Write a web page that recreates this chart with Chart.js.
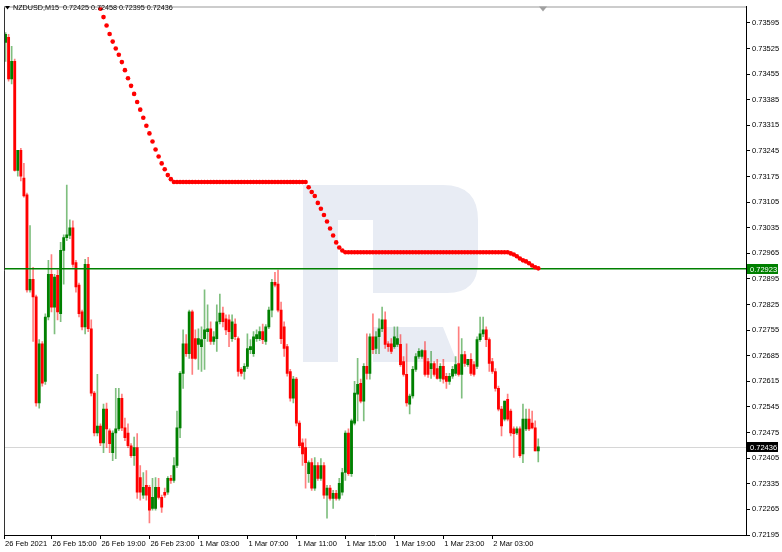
<!DOCTYPE html>
<html lang="en">
<head>
<meta charset="UTF-8">
<title>NZDUSD,M15</title>
<script src="https://cdn.jsdelivr.net/npm/chart.js@4.4.6/dist/chart.umd.min.js"></script>
<style>
  html, body { margin: 0; padding: 0; background: #fff; }
  canvas { display: block; }
</style>
</head>
<body>
<canvas id="chart" width="782" height="552"></canvas>
<script>
// ── Data (M15 bars) ──────────────────────────────────────────────────────────

const opens = [
  0.73542, 0.73556, 0.73442, 0.73490, 0.73192, 0.73247, 0.73171, 0.73125, 0.72865, 0.72894,
  0.72846, 0.72556, 0.72718, 0.72615, 0.72791, 0.72908, 0.72818, 0.72905, 0.72800, 0.72973,
  0.73008, 0.73014, 0.73035, 0.72940, 0.72878, 0.72805, 0.72764, 0.72935, 0.72759, 0.72583,
  0.72474, 0.72493, 0.72447, 0.72539, 0.72480, 0.72420, 0.72474, 0.72485, 0.72569, 0.72488,
  0.72474, 0.72439, 0.72412, 0.72434, 0.72352, 0.72304, 0.72331, 0.72325, 0.72268, 0.72268,
  0.72325, 0.72298, 0.72312, 0.72312, 0.72350, 0.72344, 0.72385, 0.72488, 0.72637, 0.72718,
  0.72691, 0.72805, 0.72732, 0.72716, 0.72710, 0.72732, 0.72751, 0.72759, 0.72724, 0.72732,
  0.72778, 0.72802, 0.72786, 0.72783, 0.72732, 0.72772, 0.72732, 0.72648, 0.72642, 0.72656,
  0.72702, 0.72691, 0.72732, 0.72732, 0.72751, 0.72724, 0.72764, 0.72810, 0.72886, 0.72881,
  0.72810, 0.72764, 0.72710, 0.72642, 0.72569, 0.72621, 0.72501, 0.72447, 0.72434, 0.72363,
  0.72393, 0.72323, 0.72385, 0.72350, 0.72385, 0.72304, 0.72323, 0.72295, 0.72309, 0.72295,
  0.72312, 0.72366, 0.72474, 0.72363, 0.72501, 0.72580, 0.72610, 0.72561, 0.72656, 0.72637,
  0.72737, 0.72705, 0.72737, 0.72759, 0.72783, 0.72718, 0.72718, 0.72710, 0.72716, 0.72716,
  0.72669, 0.72634, 0.72553, 0.72575, 0.72648, 0.72683, 0.72683, 0.72699, 0.72669, 0.72650,
  0.72664, 0.72650, 0.72623, 0.72656, 0.72629, 0.72615, 0.72629, 0.72637, 0.72664, 0.72634,
  0.72688, 0.72661, 0.72675, 0.72661, 0.72656, 0.72729, 0.72745, 0.72756, 0.72729, 0.72669,
  0.72642, 0.72596, 0.72539, 0.72512, 0.72566, 0.72534, 0.72485, 0.72474, 0.72485, 0.72417,
  0.72485, 0.72512, 0.72501, 0.72488, 0.72425,
];
const highs = [
  0.73569, 0.73564, 0.73531, 0.73496, 0.73247, 0.73252, 0.73211, 0.73130, 0.73041, 0.72927,
  0.72851, 0.72729, 0.72724, 0.72800, 0.72946, 0.72962, 0.72908, 0.72919, 0.72995, 0.73016,
  0.73152, 0.73057, 0.73054, 0.72946, 0.72884, 0.72810, 0.72949, 0.72954, 0.72783, 0.72588,
  0.72634, 0.72499, 0.72553, 0.72556, 0.72485, 0.72480, 0.72596, 0.72596, 0.72580, 0.72515,
  0.72499, 0.72445, 0.72463, 0.72472, 0.72385, 0.72366, 0.72371, 0.72331, 0.72350, 0.72352,
  0.72350, 0.72304, 0.72323, 0.72355, 0.72358, 0.72407, 0.72534, 0.72642, 0.72756, 0.72743,
  0.72810, 0.72810, 0.72756, 0.72759, 0.72764, 0.72865, 0.72824, 0.72778, 0.72751, 0.72824,
  0.72854, 0.72818, 0.72797, 0.72797, 0.72797, 0.72786, 0.72737, 0.72653, 0.72664, 0.72745,
  0.72729, 0.72751, 0.72756, 0.72764, 0.72772, 0.72770, 0.72818, 0.72894, 0.72913, 0.72919,
  0.72832, 0.72778, 0.72716, 0.72648, 0.72629, 0.72626, 0.72507, 0.72458, 0.72458, 0.72398,
  0.72404, 0.72407, 0.72393, 0.72404, 0.72393, 0.72331, 0.72331, 0.72317, 0.72317, 0.72350,
  0.72377, 0.72480, 0.72485, 0.72512, 0.72615, 0.72678, 0.72621, 0.72664, 0.72745, 0.72745,
  0.72800, 0.72751, 0.72786, 0.72818, 0.72805, 0.72724, 0.72732, 0.72764, 0.72764, 0.72743,
  0.72683, 0.72718, 0.72580, 0.72656, 0.72691, 0.72705, 0.72702, 0.72724, 0.72678, 0.72697,
  0.72669, 0.72675, 0.72664, 0.72675, 0.72637, 0.72637, 0.72656, 0.72683, 0.72764, 0.72732,
  0.72697, 0.72675, 0.72691, 0.72669, 0.72737, 0.72791, 0.72791, 0.72764, 0.72734, 0.72678,
  0.72650, 0.72602, 0.72547, 0.72561, 0.72580, 0.72539, 0.72491, 0.72491, 0.72491, 0.72553,
  0.72539, 0.72539, 0.72534, 0.72507, 0.72458,
];
const lows = [
  0.73490, 0.73436, 0.73428, 0.73190, 0.73176, 0.73163, 0.73119, 0.72859, 0.72859, 0.72724,
  0.72547, 0.72542, 0.72602, 0.72607, 0.72783, 0.72805, 0.72745, 0.72783, 0.72778, 0.72881,
  0.73000, 0.73005, 0.72927, 0.72859, 0.72791, 0.72756, 0.72745, 0.72751, 0.72575, 0.72466,
  0.72466, 0.72439, 0.72420, 0.72434, 0.72420, 0.72398, 0.72404, 0.72480, 0.72480, 0.72453,
  0.72434, 0.72407, 0.72385, 0.72295, 0.72290, 0.72295, 0.72290, 0.72228, 0.72263, 0.72263,
  0.72293, 0.72257, 0.72298, 0.72306, 0.72336, 0.72339, 0.72379, 0.72461, 0.72596, 0.72683,
  0.72678, 0.72634, 0.72675, 0.72648, 0.72642, 0.72648, 0.72724, 0.72716, 0.72716, 0.72697,
  0.72772, 0.72764, 0.72743, 0.72710, 0.72724, 0.72729, 0.72629, 0.72629, 0.72621, 0.72650,
  0.72691, 0.72683, 0.72724, 0.72726, 0.72718, 0.72716, 0.72759, 0.72791, 0.72873, 0.72805,
  0.72718, 0.72683, 0.72629, 0.72561, 0.72556, 0.72493, 0.72434, 0.72385, 0.72323, 0.72339,
  0.72317, 0.72317, 0.72344, 0.72344, 0.72295, 0.72241, 0.72290, 0.72268, 0.72290, 0.72290,
  0.72304, 0.72344, 0.72358, 0.72355, 0.72496, 0.72507, 0.72556, 0.72507, 0.72621, 0.72621,
  0.72691, 0.72691, 0.72691, 0.72751, 0.72705, 0.72697, 0.72691, 0.72705, 0.72710, 0.72656,
  0.72629, 0.72547, 0.72526, 0.72569, 0.72642, 0.72678, 0.72678, 0.72629, 0.72626, 0.72623,
  0.72629, 0.72621, 0.72615, 0.72610, 0.72596, 0.72607, 0.72623, 0.72631, 0.72629, 0.72569,
  0.72656, 0.72656, 0.72631, 0.72629, 0.72650, 0.72724, 0.72737, 0.72710, 0.72642, 0.72637,
  0.72588, 0.72534, 0.72466, 0.72507, 0.72507, 0.72466, 0.72407, 0.72469, 0.72407, 0.72393,
  0.72480, 0.72480, 0.72485, 0.72425, 0.72395,
];
const closes = [
  0.73564, 0.73442, 0.73490, 0.73192, 0.73247, 0.73176, 0.73122, 0.72865, 0.72894, 0.72846,
  0.72556, 0.72718, 0.72610, 0.72791, 0.72908, 0.72818, 0.72900, 0.72805, 0.72973, 0.73008,
  0.73016, 0.73035, 0.72935, 0.72873, 0.72800, 0.72764, 0.72935, 0.72759, 0.72583, 0.72474,
  0.72493, 0.72447, 0.72539, 0.72485, 0.72445, 0.72474, 0.72485, 0.72569, 0.72488, 0.72461,
  0.72439, 0.72412, 0.72434, 0.72312, 0.72312, 0.72325, 0.72304, 0.72263, 0.72298, 0.72325,
  0.72298, 0.72271, 0.72304, 0.72350, 0.72344, 0.72385, 0.72488, 0.72637, 0.72718, 0.72691,
  0.72805, 0.72678, 0.72678, 0.72732, 0.72729, 0.72756, 0.72759, 0.72724, 0.72737, 0.72778,
  0.72802, 0.72778, 0.72756, 0.72751, 0.72778, 0.72737, 0.72642, 0.72637, 0.72656, 0.72705,
  0.72710, 0.72737, 0.72743, 0.72751, 0.72729, 0.72764, 0.72810, 0.72886, 0.72878, 0.72810,
  0.72732, 0.72705, 0.72637, 0.72569, 0.72621, 0.72501, 0.72439, 0.72417, 0.72393, 0.72393,
  0.72323, 0.72385, 0.72350, 0.72385, 0.72304, 0.72323, 0.72295, 0.72309, 0.72295, 0.72336,
  0.72366, 0.72474, 0.72363, 0.72507, 0.72583, 0.72607, 0.72561, 0.72656, 0.72637, 0.72737,
  0.72702, 0.72737, 0.72759, 0.72783, 0.72716, 0.72710, 0.72697, 0.72737, 0.72732, 0.72661,
  0.72634, 0.72556, 0.72575, 0.72648, 0.72683, 0.72697, 0.72699, 0.72634, 0.72634, 0.72664,
  0.72634, 0.72623, 0.72656, 0.72621, 0.72615, 0.72629, 0.72648, 0.72661, 0.72634, 0.72688,
  0.72664, 0.72675, 0.72637, 0.72634, 0.72729, 0.72745, 0.72756, 0.72729, 0.72664, 0.72642,
  0.72596, 0.72539, 0.72493, 0.72561, 0.72512, 0.72474, 0.72472, 0.72485, 0.72412, 0.72512,
  0.72512, 0.72485, 0.72488, 0.72425, 0.72436,
];

// red dotted stop line, one dot per bar starting at bar `dotStart`
const dotStart = 31;
const dots = [
  0.73634, 0.73611, 0.73588, 0.73565, 0.73544, 0.73525, 0.73508, 0.73488, 0.73466, 0.73444,
  0.73423, 0.73401, 0.73379, 0.73358, 0.73336, 0.73314, 0.73293, 0.73271, 0.73249, 0.73230,
  0.73211, 0.73195, 0.73179, 0.73168,
  0.73160, 0.73160, 0.73160, 0.73160, 0.73160, 0.73160, 0.73160, 0.73160, 0.73160, 0.73160,
  0.73160, 0.73160, 0.73160, 0.73160, 0.73160, 0.73160, 0.73160, 0.73160, 0.73160, 0.73160,
  0.73160, 0.73160, 0.73160, 0.73160, 0.73160, 0.73160, 0.73160, 0.73160, 0.73160, 0.73160,
  0.73160, 0.73160, 0.73160, 0.73160, 0.73160, 0.73160, 0.73160, 0.73160, 0.73160, 0.73160,
  0.73160, 0.73160, 0.73160, 0.73160,
  0.73146, 0.73133, 0.73122, 0.73103, 0.73087, 0.73070, 0.73052, 0.73033, 0.73014, 0.72995,
  0.72981, 0.72973,
  0.72968, 0.72968, 0.72968, 0.72968, 0.72968, 0.72968, 0.72968, 0.72968, 0.72968, 0.72968,
  0.72968, 0.72968, 0.72968, 0.72968, 0.72968, 0.72968, 0.72968, 0.72968, 0.72968, 0.72968,
  0.72968, 0.72968, 0.72968, 0.72968, 0.72968, 0.72968, 0.72968, 0.72968, 0.72968, 0.72968,
  0.72968, 0.72968, 0.72968, 0.72968, 0.72968, 0.72968, 0.72968, 0.72968, 0.72968, 0.72968,
  0.72968, 0.72968, 0.72968, 0.72968, 0.72968, 0.72968, 0.72968, 0.72968, 0.72968, 0.72968,
  0.72968, 0.72968, 0.72968, 0.72968,
  0.72965, 0.72962, 0.72957, 0.72951, 0.72946, 0.72943, 0.72938, 0.72932, 0.72927, 0.72924,
];

const levelPrice = 0.72923;   // green horizontal line
const lastPrice  = 0.72436;   // bid line

const yTicks = [
  0.72195, 0.72265, 0.72335, 0.72405, 0.72475, 0.72545, 0.72615, 0.72685, 0.72755, 0.72825,
  0.72895, 0.72965, 0.73035, 0.73105, 0.73175, 0.73245, 0.73315, 0.73385, 0.73455, 0.73525,
  0.73595,
];
const timeTicks  = [-0.5, 15, 31, 47, 63, 79, 95, 111, 127, 143, 159];
const timeLabels = [
  '26 Feb 2021', '26 Feb 15:00', '26 Feb 19:00', '26 Feb 23:00', '1 Mar 03:00', '1 Mar 07:00',
  '1 Mar 11:00', '1 Mar 15:00', '1 Mar 19:00', '1 Mar 23:00', '2 Mar 03:00',
];
const header = 'NZDUSD,M15  0.72425 0.72458 0.72395 0.72436';

// ── Styling ──────────────────────────────────────────────────────────────────

const UP = '#008000', DN = '#ff0000';
const WICK_UP = 'rgba(0,128,0,0.5)', WICK_DN = 'rgba(255,0,0,0.5)';
const FONT = '"Liberation Sans", Arial, sans-serif';

const isUp = i => closes[i] >= opens[i];
const wickData = lows.map((l, i) => ({ x: i, y: [l, highs[i]] }));
const bodyData = opens.map((o, i) => ({ x: i, y: [o, closes[i]] }));
const dotData  = dots.map((v, i) => ({ x: dotStart + i, y: v }));

// logo watermark, price lines, frame and header
const decor = {
  id: 'decor',
  beforeDatasetsDraw(chart) {
    const { ctx, chartArea: a, scales: { y } } = chart;
    ctx.save();
    ctx.fillStyle = '#e8ecf4';
    ctx.fillRect(303, 185, 35, 177);
    ctx.beginPath();
    ctx.moveTo(338, 185);
    ctx.lineTo(443, 185);
    ctx.quadraticCurveTo(478, 185, 478, 220);
    ctx.lineTo(478, 262);
    ctx.quadraticCurveTo(478, 293, 447, 293);
    ctx.lineTo(373, 293);
    ctx.lineTo(373, 220);
    ctx.lineTo(338, 220);
    ctx.closePath();
    ctx.fill();
    ctx.beginPath();
    ctx.moveTo(373, 327);
    ctx.lineTo(443, 327);
    ctx.lineTo(457, 362);
    ctx.lineTo(373, 362);
    ctx.closePath();
    ctx.fill();

    const yb = Math.round(y.getPixelForValue(lastPrice)) + 0.5;
    ctx.strokeStyle = '#d6d6d6';
    ctx.lineWidth = 1;
    ctx.beginPath();
    ctx.moveTo(a.left, yb);
    ctx.lineTo(a.right, yb);
    ctx.stroke();
    ctx.restore();
  },
  afterDatasetDraw(chart, args) {
    if (args.index !== 1) return;
    const { ctx, chartArea: a, scales: { y } } = chart;
    const yl = y.getPixelForValue(levelPrice);
    ctx.save();
    ctx.strokeStyle = '#008000';
    ctx.lineWidth = 1.6;
    ctx.beginPath();
    ctx.moveTo(a.left, yl);
    ctx.lineTo(a.right, yl);
    ctx.stroke();
    ctx.restore();
  },
  afterDraw(chart) {
    const { ctx, chartArea: a, scales: { y } } = chart;
    ctx.save();
    // frame
    ctx.strokeStyle = '#333';
    ctx.lineWidth = 1;
    ctx.beginPath();
    ctx.moveTo(a.left + 0.5, a.top);
    ctx.lineTo(a.left + 0.5, a.bottom);
    ctx.stroke();
    ctx.strokeStyle = '#999';
    ctx.beginPath();
    ctx.moveTo(a.left, a.top + 0.5);
    ctx.lineTo(a.right, a.top + 0.5);
    ctx.stroke();

    // chart-shift marker
    ctx.fillStyle = '#a0a0a0';
    ctx.beginPath();
    ctx.moveTo(539, a.top);
    ctx.lineTo(547, a.top);
    ctx.lineTo(543, a.top + 5);
    ctx.closePath();
    ctx.fill();

    // header
    ctx.fillStyle = '#000';
    ctx.beginPath();
    ctx.moveTo(5, 6);
    ctx.lineTo(10, 6);
    ctx.lineTo(7.5, 9.5);
    ctx.closePath();
    ctx.fill();
    ctx.font = '7.2px ' + FONT;
    ctx.textBaseline = 'middle';
    ctx.fillText(header, 13, 8);

    // price tags on the axis
    ctx.font = '7.5px ' + FONT;
    const tag = (price, bg) => {
      const py = Math.round(y.getPixelForValue(price));
      ctx.fillStyle = bg;
      ctx.fillRect(a.right + 1, py - 5, 31, 10);
      ctx.fillStyle = '#fff';
      ctx.fillText(price.toFixed(5), a.right + 4, py + 0.5);
    };
    tag(levelPrice, '#008000');
    tag(lastPrice, '#000');
    ctx.restore();
  },
};

Chart.defaults.font.family = FONT;
Chart.defaults.font.size = 7.5;
Chart.defaults.color = '#000';

new Chart(document.getElementById('chart'), {
  type: 'bar',
  data: {
    datasets: [
      {
        label: 'wicks',
        data: wickData,
        backgroundColor: c => isUp(c.dataIndex) ? WICK_UP : WICK_DN,
        barThickness: 1,
        maxBarThickness: 1,
        grouped: false,
        order: 3,
      },
      {
        label: 'bodies',
        data: bodyData,
        backgroundColor: c => isUp(c.dataIndex) ? UP : DN,
        barThickness: 2.2,
        maxBarThickness: 2.2,
        minBarLength: 1,
        grouped: false,
        order: 2,
      },
      {
        type: 'line',
        label: 'stop',
        data: dotData,
        showLine: false,
        pointRadius: 2.3,
        pointBorderWidth: 0,
        pointBackgroundColor: '#ff0000',
        order: 1,
      },
    ],
  },
  options: {
    responsive: false,
    animation: false,
    layout: { padding: { left: 2, top: 2, right: 0, bottom: 0 } },
    plugins: { legend: { display: false }, tooltip: { enabled: false } },
    scales: {
      x: {
        type: 'linear',
        min: -0.5,
        max: 241.85,
        offset: false,
        grid: { drawOnChartArea: false, tickLength: 4, color: '#000', offset: false },
        border: { color: '#000' },
        ticks: {
          autoSkip: false,
          maxRotation: 0,
          align: 'start',
          labelOffset: 1,
          padding: 0,
          callback: v => {
            const k = timeTicks.indexOf(v);
            return k < 0 ? null : timeLabels[k];
          },
        },
        afterBuildTicks: s => { s.ticks = timeTicks.map(v => ({ value: v })); },
        afterFit: s => { s.height = 17; },
      },
      y: {
        position: 'right',
        min: 0.72195,
        max: 0.7364,
        grid: { drawOnChartArea: false, tickLength: 4, color: '#000' },
        border: { color: '#000' },
        ticks: { padding: 2, callback: v => v.toFixed(5) },
        afterBuildTicks: s => { s.ticks = yTicks.map(v => ({ value: v })); },
        afterFit: s => { s.width = 36; },
      },
    },
  },
  plugins: [decor],
});
</script>
</body>
</html>
